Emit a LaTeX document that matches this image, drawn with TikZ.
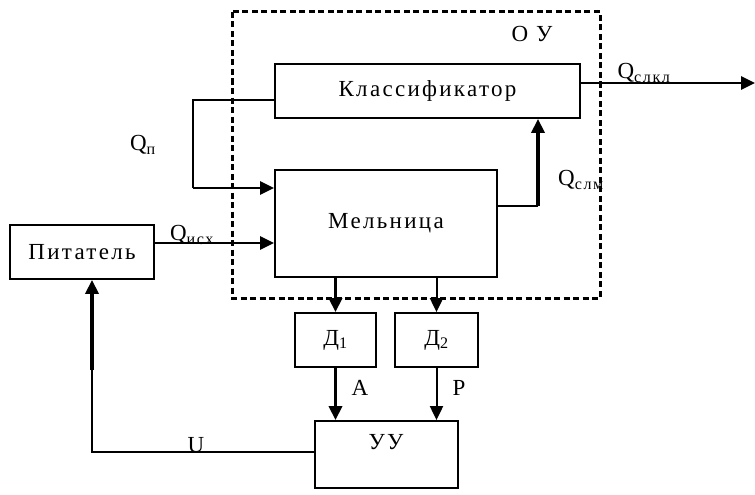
\documentclass[tikz,border=0pt]{standalone}
\usepackage{fontspec}
\setmainfont{Liberation Serif}[LetterSpace=10]
\usepackage{tikz}
\usetikzlibrary{arrows.meta, positioning, calc}

\begin{document}
\begin{tikzpicture}[x=1pt, y=-1pt, >={Triangle[length=14pt, width=13pt]},
    every node/.style={font=\fontsize{23}{26}\selectfont, inner sep=0pt},
    khoi/.style={draw, line width=1.8pt},
    mong/.style={line width=2pt},
    vua/.style={line width=2.6pt},
    day/.style={line width=3.6pt}]
    \useasboundingbox (0,0) rectangle (755,495);

    % Đối tượng điều khiển (khung nét đứt)
    \draw[dash pattern=on 6pt off 3.5pt, line width=3pt] (232,12) rectangle (600,298);
    \node (ou) at (532,34) {О У};

    % Các khối chính
    \node[khoi, minimum width=305pt, minimum height=54pt] (kl) at (427.5,91) {Классификатор};
    \node[khoi, minimum width=222pt, minimum height=107pt] (mel) at (386,223.5) {Мельница};
    \node[khoi, minimum width=144pt, minimum height=54pt] (pit) at (82,252) {Питатель};
    \node[khoi, minimum width=81pt, minimum height=54pt] (d1) at (335.5,340) {Д\textsubscript{1}};
    \node[khoi, minimum width=83pt, minimum height=54pt] (d2) at (436.5,340) {Д\textsubscript{2}};
    \node[khoi, minimum width=143pt, minimum height=67pt] (uu) at (386.5,454.5) {};
    \node (uutxt) at (386,442) {УУ};

    % Điểm phụ
    \coordinate (out) at (755,83);
    \coordinate (uday) at (92,370);

    % Dòng sản phẩm
    \draw[vua, ->] ([yshift=8pt]kl.east) -- (out);
    \node at (644,73) {Q\textsubscript{слкл}};
    \draw[mong] ([yshift=-9pt]kl.west) -| (193,188);
    \draw[vua, ->] (193,188) -- (mel.west |- 0,188);
    \node at (143,145) {Q\textsubscript{п}};
    \draw[vua, ->] ([yshift=9pt]pit.east) -- (mel.west |- 0,243);
    \node at (192,235) {Q\textsubscript{исх}};
    \draw[mong] ([yshift=17.5pt]mel.east) -- (538,206);
    \draw[day, ->] (538,206) -- (kl.south -| 538,0);
    \node at (581,180) {Q\textsubscript{слм}};

    % Cảm biến và bộ điều khiển
    \draw[day, ->] (mel.south -| d1) -- (d1);
    \draw[mong, ->] (mel.south -| d2) -- (d2);
    \draw[day, ->] (d1) -- (uu.north -| d1);
    \node at (360,388) {A};
    \draw[mong, ->] (d2) -- (uu.north -| d2);
    \node at (459,388) {P};

    % Tín hiệu điều khiển U
    \draw[mong] ([yshift=2.5pt]uu.west) -| (uday);
    \draw[day, ->] (uday) -- (pit.south -| uday);
    \node at (196,445) {U};
\end{tikzpicture}
\end{document}
